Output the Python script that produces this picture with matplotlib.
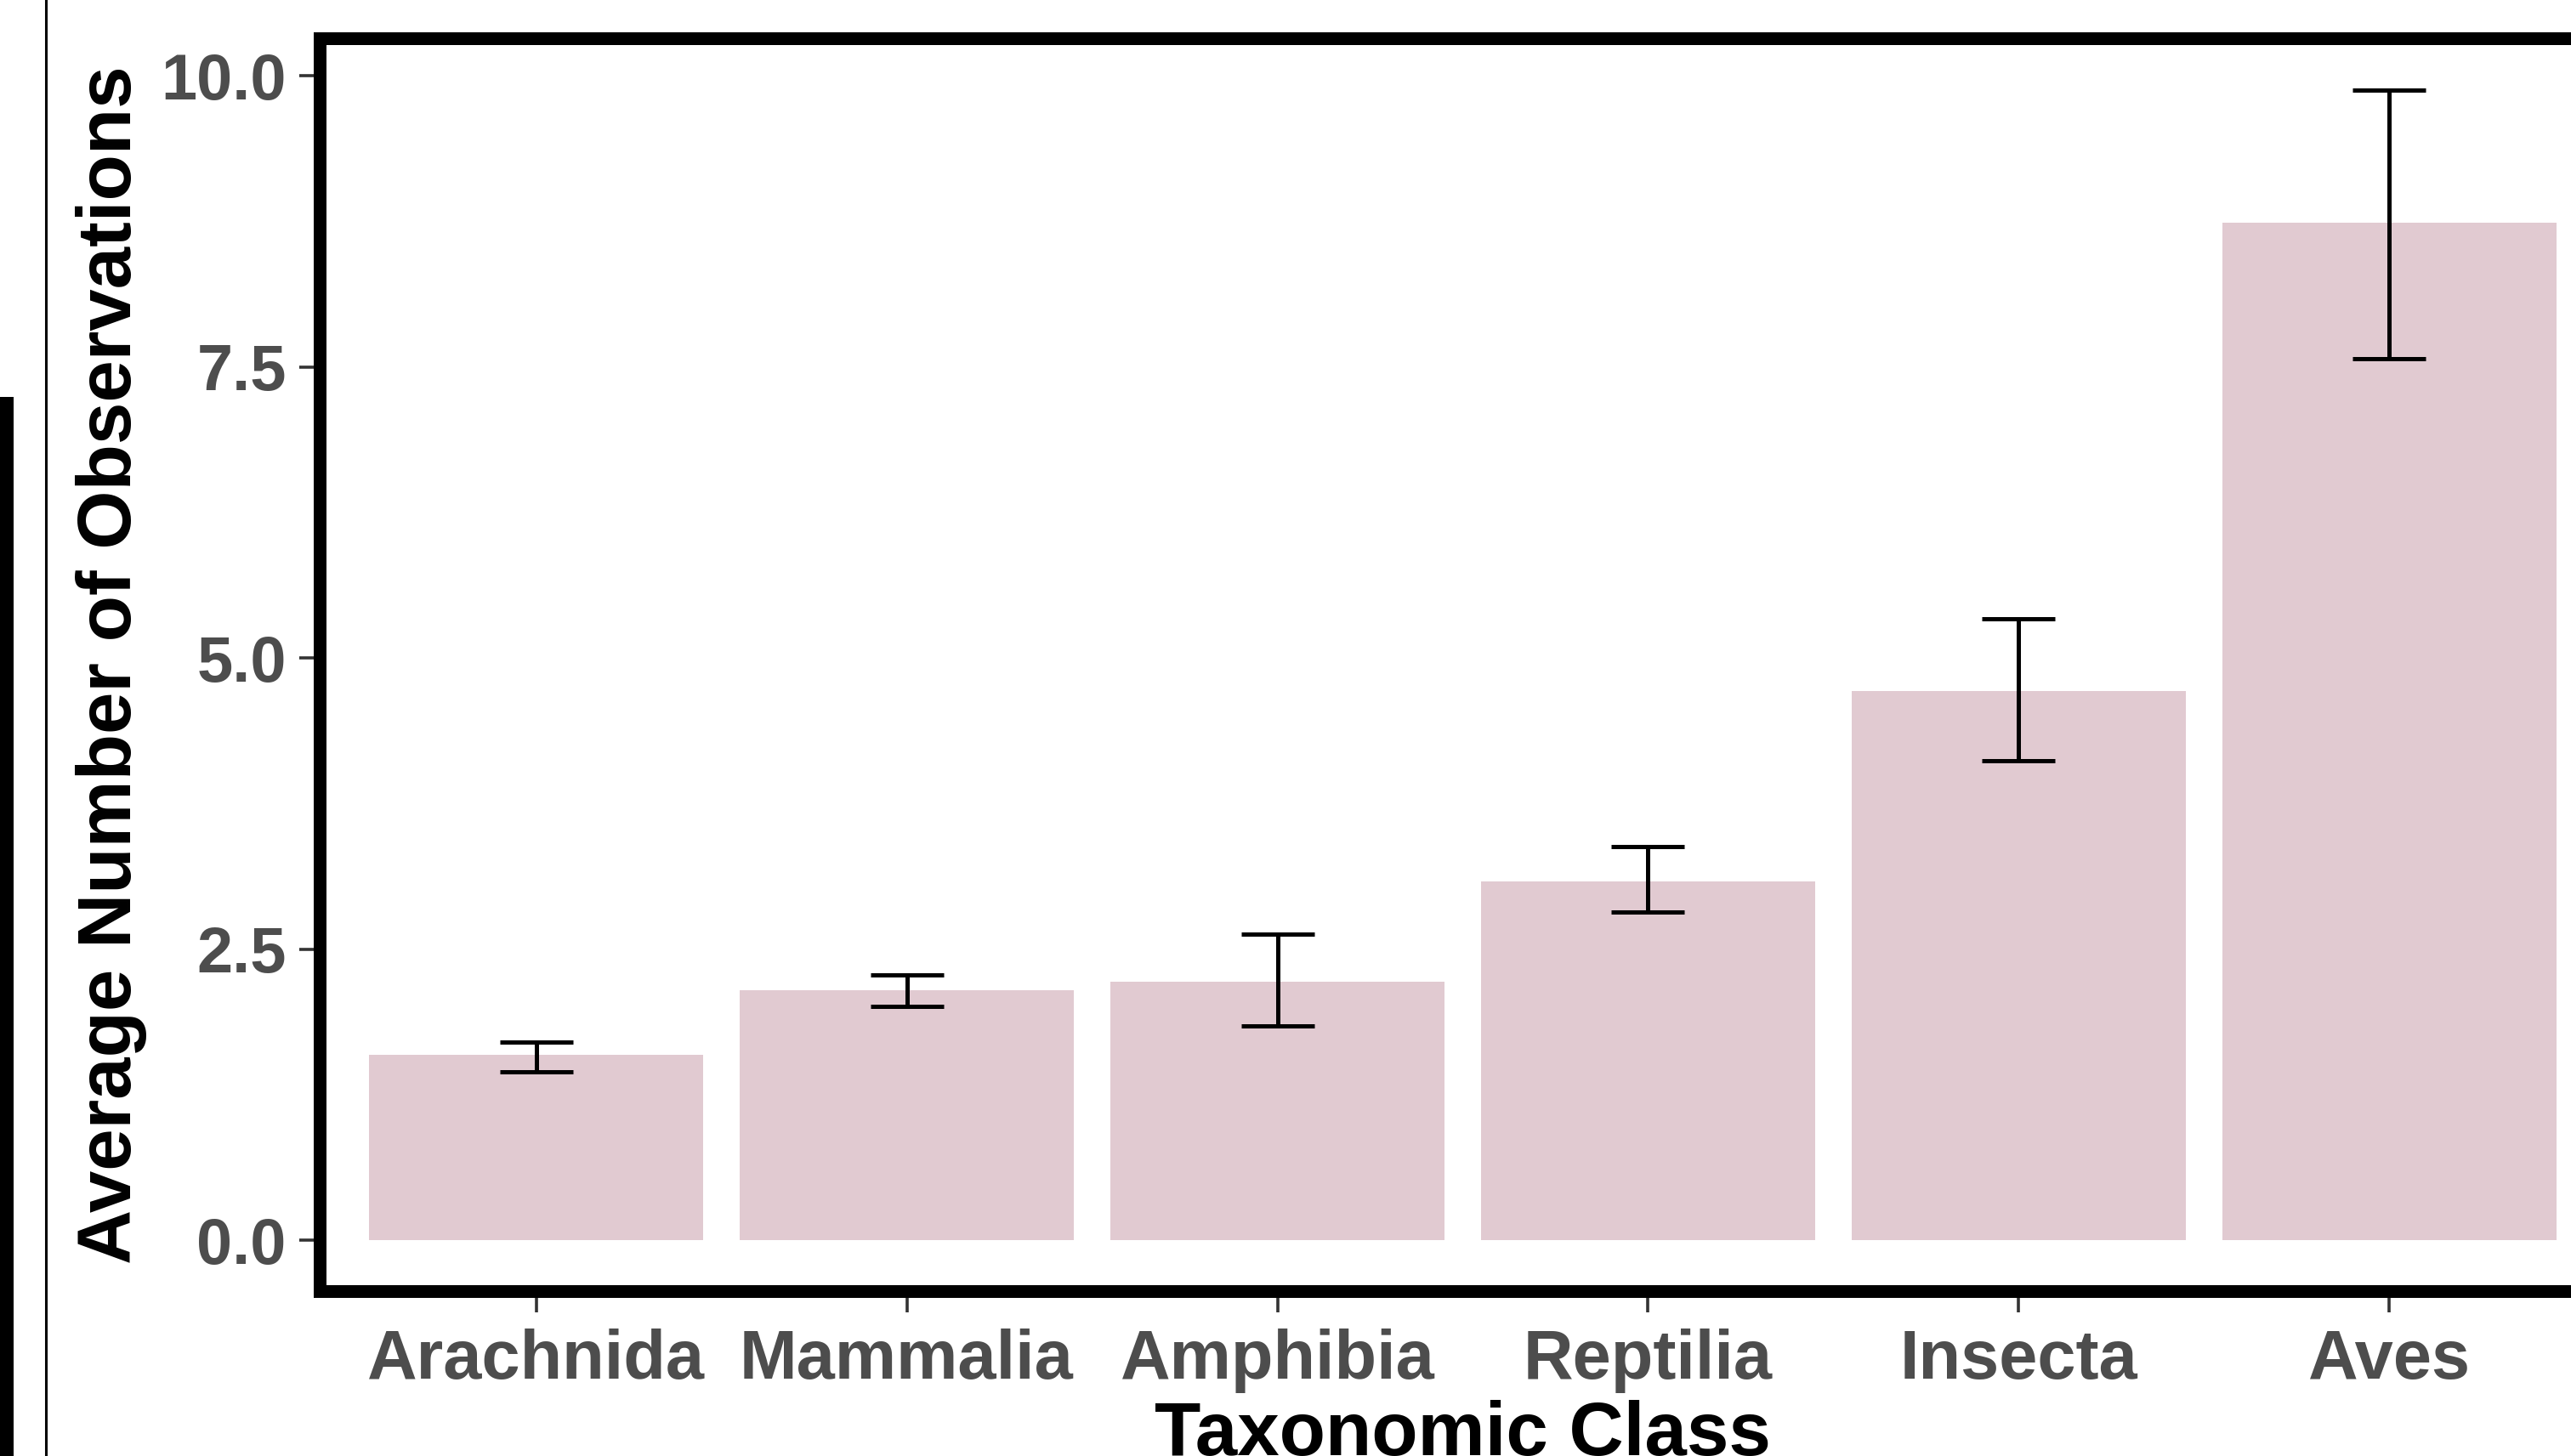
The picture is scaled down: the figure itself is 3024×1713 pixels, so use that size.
import numpy as np
import matplotlib
matplotlib.use("Agg")
import matplotlib.pyplot as plt
from matplotlib.patches import Rectangle
from matplotlib.lines import Line2D

plt.rcParams['font.family'] = ['Liberation Sans', 'DejaVu Sans']
plt.rcParams['font.weight'] = 'bold'

# data
classes = ["Arachnida", "Mammalia", "Amphibia", "Reptilia", "Insecta", "Aves"]
mean_obs = [1.59, 2.15, 2.22, 3.08, 4.72, 8.74]
err_low = [1.45, 2.01, 1.84, 2.82, 4.12, 7.57]
err_high = [1.70, 2.28, 2.63, 3.38, 5.34, 9.88]
yticks = [0.0, 2.5, 5.0, 7.5, 10.0]

bar_color = "#E1CAD1"
W, H = 3024, 1713

fig = plt.figure(figsize=(W / 100, H / 100), dpi=100)
fig.patch.set_facecolor("white")

# panel placed in pixel terms (right edge runs off the image like the reference)
ax_left, ax_right, ax_top, ax_bot = 369, 3072, 38, 1527
ax = fig.add_axes([ax_left / W, (H - ax_bot) / H,
                   (ax_right - ax_left) / W, (ax_bot - ax_top) / H])

xpos = np.arange(len(classes))
means = np.array(mean_obs)
lo = means - np.array(err_low)
hi = np.array(err_high) - means

ax.bar(xpos, means, width=0.9, color=bar_color, zorder=1)
ax.errorbar(xpos, means, yerr=[lo, hi], fmt="none", ecolor="black",
            elinewidth=3.6, capsize=31, capthick=3.6, zorder=2)

# ggplot-like expansion
ymax = max(err_high)
ax.set_ylim(-0.05 * ymax, ymax * 1.05)
ax.set_xlim(-0.6, len(classes) - 0.4)

ax.set_xticks(xpos)
ax.set_xticklabels(classes)
ax.set_yticks(yticks)
ax.set_yticklabels(["%.1f" % t for t in yticks])
ax.tick_params(axis="both", length=12.2, width=2.6, color="#333333",
               labelcolor="#4D4D4D")
ax.tick_params(axis="x", labelsize=58.5, pad=13.5)
ax.tick_params(axis="y", labelsize=54.5, pad=11)

for sp in ax.spines.values():
    sp.set_linewidth(21.6)
    sp.set_color("black")
    sp.set_clip_path(ax.patch)

ax.set_ylabel("Average Number of Observations", fontsize=64,
              fontweight="bold", color="black")
ax.yaxis.set_label_coords((173 - ax_left) / (ax_right - ax_left), 0.5)

ax.set_xlabel("Taxonomic Class", fontsize=64, fontweight="bold", color="black")
ax.xaxis.label.set_va("baseline")
ax.xaxis.set_label_coords((ax_left + ax_right) / 2 / W, 1.0 / H,
                          transform=fig.transFigure)

# bits of neighbouring figure visible at the left edge of the screenshot
fig.add_artist(Rectangle((0, 0), 16 / W, (H - 467) / H,
                         transform=fig.transFigure, color="black", lw=0))
fig.add_artist(Line2D([53.5 / W, 53.5 / W], [0, 1], transform=fig.transFigure,
                      color="black", lw=2.2))

fig.savefig("out.png", dpi=100)
